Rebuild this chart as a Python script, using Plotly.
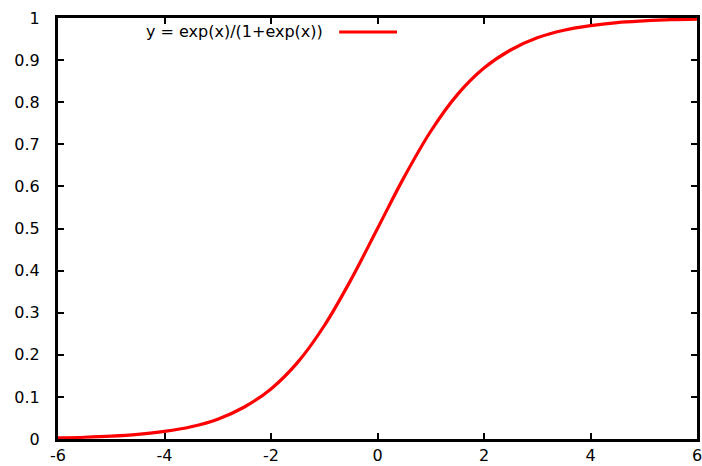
import plotly.graph_objects as go

series_name = "y = exp(x)/(1+exp(x))"
x_values = [-6, -5.5, -5, -4.5, -4, -3.5, -3, -2.5, -2, -1.5, -1, -0.5, 0,
            0.5, 1, 1.5, 2, 2.5, 3, 3.5, 4, 4.5, 5, 5.5, 6]
y_values = [0.0025, 0.0041, 0.0067, 0.011, 0.018, 0.029, 0.047, 0.076, 0.119,
            0.182, 0.269, 0.378, 0.5, 0.622, 0.731, 0.818, 0.881, 0.924,
            0.953, 0.971, 0.982, 0.989, 0.993, 0.996, 0.9975]
x_ticks = [-6, -4, -2, 0, 2, 4, 6]
y_ticks = [0, 0.1, 0.2, 0.3, 0.4, 0.5, 0.6, 0.7, 0.8, 0.9, 1]

font_family = "DejaVu Sans, Liberation Sans, Arial"

fig = go.Figure()
fig.add_trace(go.Scatter(x=x_values, y=y_values, mode="lines", name=series_name,
                         line=dict(color="#ff0000", width=3.2, shape="spline"),
                         showlegend=False, cliponaxis=False))

axis_common = dict(showline=True, linecolor="black", linewidth=3, mirror="allticks",
                   ticks="inside", ticklen=6, tickwidth=2, tickcolor="black",
                   showgrid=False, zeroline=False, automargin=False,
                   ticklabeloverflow="allow",
                   tickfont=dict(family=font_family, size=16, color="black"))

fig.update_layout(
    width=702, height=466,
    margin=dict(l=58, r=5, t=18, b=27, autoexpand=False),
    paper_bgcolor="white", plot_bgcolor="white",
    xaxis=dict(range=[-6, 6], tickvals=x_ticks, ticktext=[str(v) for v in x_ticks], **axis_common),
    yaxis=dict(range=[0, 1], tickvals=y_ticks, ticktext=[("%g" % v) for v in y_ticks],
               ticklabelstandoff=12, **axis_common),
    annotations=[dict(text=series_name, xref="paper", yref="paper", x=0.418, y=0.967,
                      xanchor="right", yanchor="middle", showarrow=False,
                      font=dict(family=font_family, size=16, color="black"))],
    shapes=[dict(type="line", xref="paper", yref="paper", x0=0.44, x1=0.5305,
                 y0=0.967, y1=0.967, line=dict(color="#ff0000", width=3))],
)

fig.write_html("out.html", config={"displayModeBar": False},
               post_script="document.body.style.margin='0';document.body.style.overflow='hidden';")
